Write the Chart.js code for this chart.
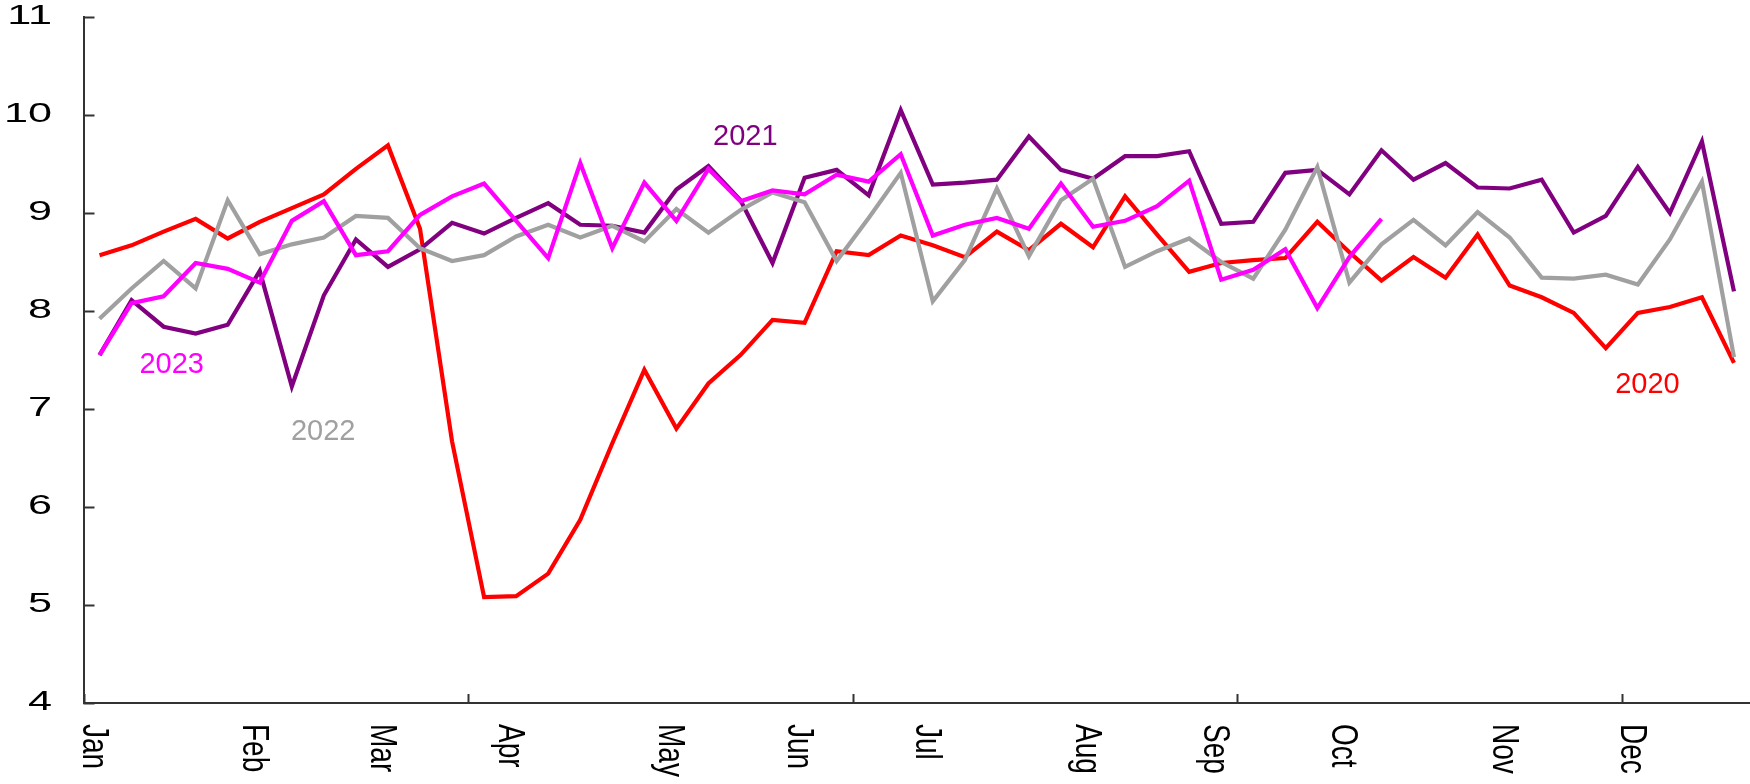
<!DOCTYPE html>
<html>
<head>
<meta charset="utf-8">
<script src="https://cdn.jsdelivr.net/npm/chart.js@4.4.1/dist/chart.umd.min.js"></script>
<style>
  html, body { margin: 0; padding: 0; background: #ffffff; }
  #wrap { width: 1750px; height: 784px; }
</style>
</head>
<body>
<div id="wrap"><canvas id="chart" width="1750" height="784"></canvas></div>
<script>
// Weekly index values, one point per week of the year
const weeks = ['W1','W2','W3','W4','W5','W6','W7','W8','W9','W10','W11','W12','W13',
  'W14','W15','W16','W17','W18','W19','W20','W21','W22','W23','W24','W25','W26',
  'W27','W28','W29','W30','W31','W32','W33','W34','W35','W36','W37','W38','W39',
  'W40','W41','W42','W43','W44','W45','W46','W47','W48','W49','W50','W51','W52'];

// Month names and the week each one is written under
const monthNames = ['Jan','Feb','Mar','Apr','May','Jun','Jul','Aug','Sep','Oct','Nov','Dec'];
const monthWeeks = [0, 5, 9, 13, 18, 22, 26, 31, 35, 39, 44, 48];

// Tick marks on the time axis sit at the start of these weeks
const quarterWeeks = [0, 12, 24, 36, 48];

// Value axis ticks
const yTicks = [4, 5, 6, 7, 8, 9, 10, 11];

const values2020 = [8.57, 8.67, 8.81, 8.94, 8.74, 8.91, 9.05, 9.19, 9.45, 9.69,
  8.84, 6.67, 5.08, 5.09, 5.32, 5.87, 6.65, 7.40, 6.80, 7.26,
  7.55, 7.91, 7.88, 8.61, 8.57, 8.77, 8.67, 8.55, 8.81, 8.62,
  8.89, 8.65, 9.17, 8.78, 8.40, 8.49, 8.52, 8.54, 8.91, 8.60,
  8.31, 8.55, 8.34, 8.78, 8.26, 8.14, 7.98, 7.62, 7.98, 8.04,
  8.14, 7.47];

const values2021 = [7.55, 8.11, 7.84, 7.77, 7.86, 8.41, 7.23, 8.16, 8.73, 8.45,
  8.63, 8.90, 8.79, 8.95, 9.10, 8.88, 8.87, 8.80, 9.24, 9.48,
  9.13, 8.49, 9.36, 9.44, 9.18, 10.05, 9.29, 9.31, 9.34, 9.78,
  9.44, 9.35, 9.58, 9.58, 9.63, 8.89, 8.91, 9.41, 9.44, 9.19,
  9.64, 9.34, 9.51, 9.26, 9.25, 9.34, 8.80, 8.97, 9.47, 9.00,
  9.73, 8.20];

const values2022 = [7.92, 8.23, 8.51, 8.23, 9.13, 8.58, 8.68, 8.75, 8.97, 8.95,
  8.64, 8.51, 8.57, 8.76, 8.88, 8.75, 8.87, 8.71, 9.04, 8.80,
  9.03, 9.21, 9.11, 8.51, 8.95, 9.41, 8.10, 8.52, 9.25, 8.56,
  9.13, 9.35, 8.45, 8.61, 8.74, 8.50, 8.33, 8.83, 9.47, 8.29,
  8.68, 8.93, 8.67, 9.01, 8.75, 8.34, 8.33, 8.37, 8.27, 8.73,
  9.32, 7.53];

const values2023 = [7.55, 8.08, 8.15, 8.49, 8.43, 8.29, 8.92, 9.12, 8.57, 8.61,
  8.98, 9.17, 9.30, 8.92, 8.54, 9.51, 8.64, 9.31, 8.92, 9.45,
  9.12, 9.23, 9.19, 9.39, 9.32, 9.60, 8.77, 8.88, 8.95, 8.84,
  9.30, 8.86, 8.92, 9.07, 9.33, 8.32, 8.42, 8.63, 8.03, 8.55,
  8.94, null, null, null, null, null, null, null, null, null,
  null, null];

// Year labels placed next to their lines, in axis units (week index, value)
const yearNames = ['2020', '2021', '2022', '2023'];
const yearColors = ['#ff0000', '#800080', '#a0a0a0', '#ff00ff'];
const yearLabelWeek = [48.3, 20.15, 6.98, 2.25];
const yearLabelValue = [7.24, 9.78, 6.77, 7.45];

const FONT = '"Liberation Sans", Arial, Helvetica, sans-serif';
const AXIS_COLOR = '#333333';

const axisDecor = {
  id: 'axisDecor',
  afterDatasetsDraw(chart) {
    const ctx = chart.ctx;
    const xs = chart.scales.x;
    const ys = chart.scales.y;
    const area = chart.chartArea;
    const half = (xs.getPixelForValue(1) - xs.getPixelForValue(0)) / 2;

    ctx.save();
    ctx.strokeStyle = AXIS_COLOR;
    ctx.lineWidth = 2;

    // inward tick marks on the value axis
    yTicks.forEach(v => {
      const py = Math.round(ys.getPixelForValue(v)) + 0.5;
      ctx.beginPath();
      ctx.moveTo(area.left, py);
      ctx.lineTo(area.left + 11, py);
      ctx.stroke();
    });

    // inward tick marks on the time axis
    quarterWeeks.forEach(w => {
      const px = Math.round(xs.getPixelForValue(w) - half) + 0.5;
      ctx.beginPath();
      ctx.moveTo(px, area.bottom);
      ctx.lineTo(px, area.bottom - 9);
      ctx.stroke();
    });

    // value labels, set in a wide face
    ctx.fillStyle = '#000000';
    ctx.font = '27px ' + FONT;
    ctx.textAlign = 'right';
    ctx.textBaseline = 'middle';
    yTicks.forEach(v => {
      ctx.save();
      ctx.translate(52, ys.getPixelForValue(v));
      ctx.scale(1.6, 1);
      ctx.fillText(String(v), 0, 0);
      ctx.restore();
    });

    // month names, written top to bottom
    ctx.font = '28px ' + FONT;
    ctx.textAlign = 'left';
    ctx.textBaseline = 'alphabetic';
    monthNames.forEach((name, i) => {
      const px = xs.getPixelForValue(monthWeeks[i]);
      ctx.save();
      ctx.translate(px - 17, area.bottom + 21);
      ctx.rotate(Math.PI / 2);
      ctx.scale(1, 1.35);
      ctx.fillText(name, 0, 0);
      ctx.restore();
    });

    // year labels
    ctx.font = '29px ' + FONT;
    ctx.textAlign = 'center';
    ctx.textBaseline = 'middle';
    yearNames.forEach((name, i) => {
      const px = xs.getPixelForValue(0) + yearLabelWeek[i] * (half * 2);
      const py = ys.getPixelForValue(yearLabelValue[i]);
      ctx.fillStyle = yearColors[i];
      ctx.fillText(name, px, py);
    });
    ctx.restore();
  }
};

const lineStyle = (label, data, color, order) => ({
  label, data, order,
  borderColor: color,
  backgroundColor: color,
  borderWidth: 4.2,
  pointRadius: 0,
  pointHoverRadius: 0,
  tension: 0,
  fill: false,
  spanGaps: false,
  borderJoinStyle: 'miter',
  borderCapStyle: 'butt'
});

new Chart(document.getElementById('chart'), {
  type: 'line',
  data: {
    labels: weeks,
    datasets: [
      lineStyle(yearNames[0], values2020, yearColors[0], 3),
      lineStyle(yearNames[1], values2021, yearColors[1], 2),
      lineStyle(yearNames[2], values2022, yearColors[2], 1),
      lineStyle(yearNames[3], values2023, yearColors[3], 0)
    ]
  },
  options: {
    responsive: false,
    maintainAspectRatio: false,
    devicePixelRatio: 1,
    animation: false,
    layout: { padding: 0 },
    plugins: {
      legend: { display: false },
      tooltip: { enabled: false },
      title: { display: false }
    },
    scales: {
      x: {
        type: 'category',
        offset: true,
        grid: { display: false, drawTicks: false },
        border: { display: true, color: AXIS_COLOR, width: 2 },
        ticks: { display: false },
        afterFit(scale) { scale.height = 81; }
      },
      y: {
        min: 4,
        max: 11,
        grid: { display: false, drawTicks: false },
        border: { display: true, color: AXIS_COLOR, width: 2 },
        ticks: { display: false, stepSize: 1 },
        afterFit(scale) {
          scale.width = 83.5;
          scale.paddingTop = 17;
          scale.paddingBottom = 0;
        }
      }
    }
  },
  plugins: [axisDecor]
});
</script>
</body>
</html>
